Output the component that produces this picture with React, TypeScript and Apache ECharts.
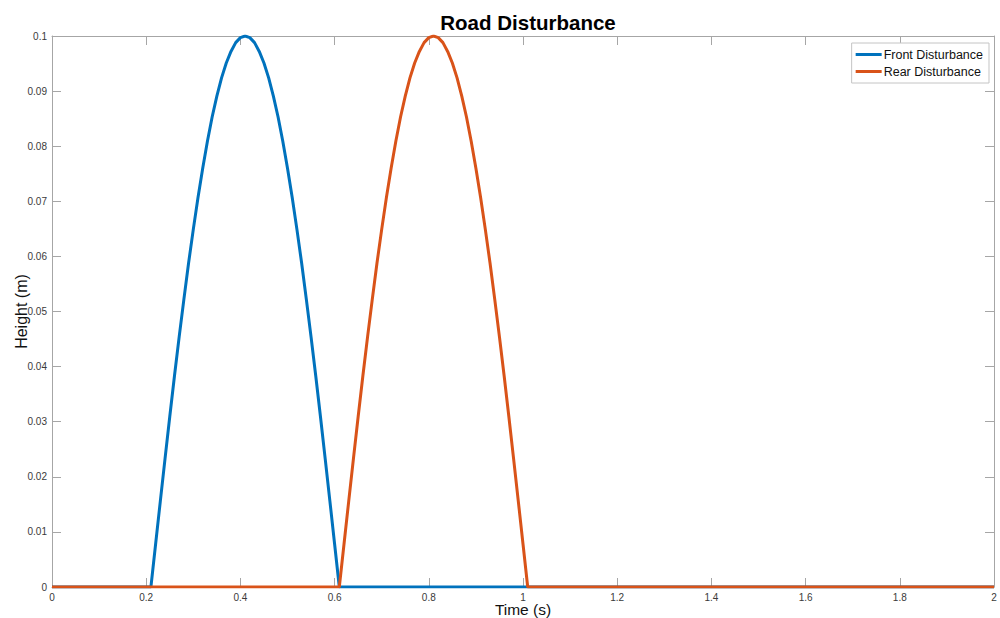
import React, { useEffect, useRef } from "react";
import * as echarts from "echarts";

const titleText = "Road Disturbance";
const xName = "Time (s)";
const yName = "Height (m)";
const seriesNames = ["Front Disturbance", "Rear Disturbance"];
const seriesColors = ["#0072BD", "#D95319"];

// Front disturbance: flat, bump from 0.21 s to 0.61 s (read every 0.01 s), flat
const frontTimes = [
  0, 0.21, 0.22, 0.23, 0.24, 0.25, 0.26, 0.27, 0.28, 0.29, 0.3, 0.31, 0.32, 0.33, 0.34, 0.35, 0.36,
  0.37, 0.38, 0.39, 0.4, 0.41, 0.42, 0.43, 0.44, 0.45, 0.46, 0.47, 0.48, 0.49, 0.5, 0.51, 0.52,
  0.53, 0.54, 0.55, 0.56, 0.57, 0.58, 0.59, 0.6, 0.61, 2,
];
const frontHeights = [
  0, 0, 0.0078, 0.0156, 0.0233, 0.0309, 0.0383, 0.0454, 0.0522, 0.0588, 0.0649, 0.0707, 0.076,
  0.0809, 0.0853, 0.0891, 0.0924, 0.0951, 0.0972, 0.0988, 0.0997, 0.1, 0.0997, 0.0988, 0.0972,
  0.0951, 0.0924, 0.0891, 0.0853, 0.0809, 0.076, 0.0707, 0.0649, 0.0588, 0.0522, 0.0454, 0.0383,
  0.0309, 0.0233, 0.0156, 0.0078, 0, 0,
];
// Rear disturbance: flat, bump from 0.61 s to 1.01 s, flat
const rearTimes = [
  0, 0.61, 0.62, 0.63, 0.64, 0.65, 0.66, 0.67, 0.68, 0.69, 0.7, 0.71, 0.72, 0.73, 0.74, 0.75, 0.76,
  0.77, 0.78, 0.79, 0.8, 0.81, 0.82, 0.83, 0.84, 0.85, 0.86, 0.87, 0.88, 0.89, 0.9, 0.91, 0.92,
  0.93, 0.94, 0.95, 0.96, 0.97, 0.98, 0.99, 1.0, 1.01, 2,
];
const rearHeights = [
  0, 0, 0.0078, 0.0156, 0.0233, 0.0309, 0.0383, 0.0454, 0.0522, 0.0588, 0.0649, 0.0707, 0.076,
  0.0809, 0.0853, 0.0891, 0.0924, 0.0951, 0.0972, 0.0988, 0.0997, 0.1, 0.0997, 0.0988, 0.0972,
  0.0951, 0.0924, 0.0891, 0.0853, 0.0809, 0.076, 0.0707, 0.0649, 0.0588, 0.0522, 0.0454, 0.0383,
  0.0309, 0.0233, 0.0156, 0.0078, 0, 0,
];

const xMin = 0;
const xMax = 2;
const xStep = 0.2;
const yMin = 0;
const yMax = 0.1;
const yStep = 0.01;

const FONT = "'Liberation Sans', Arial, Helvetica, sans-serif";
const AXIS_COLOR = "#a6a6a6";
const LABEL_COLOR = "#3a3a3a";

const fmt = (v: number) => String(+v.toFixed(2));

export default function App() {
  const ref = useRef<HTMLDivElement>(null);
  useEffect(() => {
    if (!ref.current) return;
    const chart = echarts.init(ref.current, null, { renderer: "svg" });
    const axisCommon = {
      axisLine: { show: true, onZero: false, lineStyle: { color: AXIS_COLOR, width: 1 } },
      axisTick: { show: true, inside: true, length: 9, lineStyle: { color: AXIS_COLOR, width: 1 } },
      splitLine: { show: false },
    };
    chart.setOption({
      animation: false,
      backgroundColor: "#ffffff",
      title: {
        text: titleText,
        left: 523,
        top: 7,
        textAlign: "center",
        textStyle: { fontFamily: FONT, fontSize: 20.5, fontWeight: "bold", color: "#000" },
      },
      legend: {
        orient: "vertical",
        right: 11,
        top: 43,
        data: seriesNames,
        icon: "rect",
        itemWidth: 26,
        itemHeight: 3,
        itemGap: 4,
        padding: [5, 6, 5, 4],
        borderColor: "#c4c4c4",
        borderWidth: 1,
        backgroundColor: "#fff",
        textStyle: { fontFamily: FONT, fontSize: 12.5, color: "#111", padding: [0, 0, 0, -3] },
      },
      grid: { left: 52, right: 6, top: 36, bottom: 31, containLabel: false, outerBoundsMode: "none" },
      xAxis: [
        {
          type: "value",
          min: xMin,
          max: xMax,
          interval: xStep,
          position: "bottom",
          name: xName,
          nameLocation: "middle",
          nameGap: 15,
          nameMoveOverlap: false,
          nameTextStyle: {
            fontFamily: FONT,
            fontSize: 15.5,
            lineHeight: 15,
            color: "#111",
            verticalAlign: "top",
          },
          axisLabel: {
            fontFamily: FONT,
            fontSize: 10,
            lineHeight: 10,
            color: LABEL_COLOR,
            margin: 5,
            formatter: fmt,
          },
          ...axisCommon,
        },
        {
          type: "value",
          min: xMin,
          max: xMax,
          interval: xStep,
          position: "top",
          axisLabel: { show: false },
          ...axisCommon,
        },
      ],
      yAxis: [
        {
          type: "value",
          min: yMin,
          max: yMax,
          interval: yStep,
          position: "left",
          name: yName,
          nameLocation: "middle",
          nameGap: 23,
          nameMoveOverlap: false,
          nameTextStyle: { fontFamily: FONT, fontSize: 16, color: "#111" },
          axisLabel: { fontFamily: FONT, fontSize: 10, color: LABEL_COLOR, margin: 5, formatter: fmt },
          ...axisCommon,
        },
        {
          type: "value",
          min: yMin,
          max: yMax,
          interval: yStep,
          position: "right",
          axisLabel: { show: false },
          ...axisCommon,
        },
      ],
      series: [
        {
          name: seriesNames[0],
          type: "line",
          data: frontTimes.map((t, i) => [t, frontHeights[i]]),
          showSymbol: false,
          smooth: false,
          color: seriesColors[0],
          lineStyle: { width: 3, color: seriesColors[0] },
          z: 2,
        },
        {
          name: seriesNames[1],
          type: "line",
          data: rearTimes.map((t, i) => [t, rearHeights[i]]),
          showSymbol: false,
          smooth: false,
          color: seriesColors[1],
          lineStyle: { width: 3, color: seriesColors[1] },
          z: 3,
        },
      ],
    });
    return () => chart.dispose();
  }, []);
  return (
    <div
      ref={ref}
      style={{ position: "fixed", left: 0, top: 0, width: 1000, height: 618, background: "#fff" }}
    />
  );
}
